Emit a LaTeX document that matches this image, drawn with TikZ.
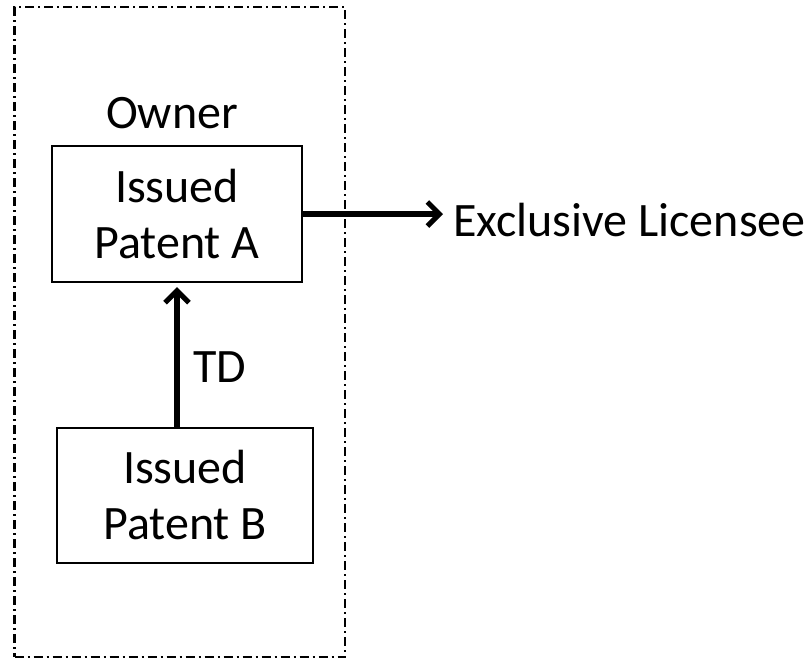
\documentclass[tikz,border=0pt]{standalone}
\usepackage{fontspec}
\setmainfont{Carlito}
\usetikzlibrary{arrows.meta}
\begin{document}
\begin{tikzpicture}[x=1pt,y=-1pt,
  every node/.style={font=\fontsize{48}{56}\selectfont},
  patentbox/.style={draw, line width=2.4pt, align=center, inner sep=0pt},
  ownerframe/.style={draw, line width=2.1pt, dash pattern=on 9pt off 4pt on 2pt off 4pt, inner sep=0pt},
  link/.style={line width=5.6pt, -{Straight Barb[length=12pt,width=24pt,line width=5pt]}}
]
\useasboundingbox (0,0) rectangle (807,659);

% dash-dotted frame around the owner's patents
\node[ownerframe, minimum width=330.5pt, minimum height=650pt] (frame) at (179.75,332.25) {};

\node[anchor=base] (owner) at (172,128) {Owner};

\node[patentbox, minimum width=250pt, minimum height=136pt] (A) at (177,214) {Issued\\Patent A};
\node[patentbox, minimum width=256pt, minimum height=135pt] (B) at (185,495.5) {Issued\\Patent B};

\node[anchor=base west, inner xsep=10pt, inner ysep=0pt] (lic) at (443,236) {Exclusive Licensee};
\node[anchor=base west, inner sep=0pt] (td) at (193,382) {TD};

% terminal disclaimer link and exclusive licence
\draw[link, shorten >=4pt] (A.south |- B.north) -- (A.south);
\draw[link] (A.east) -- (A.east -| lic.west);
\end{tikzpicture}
\end{document}
